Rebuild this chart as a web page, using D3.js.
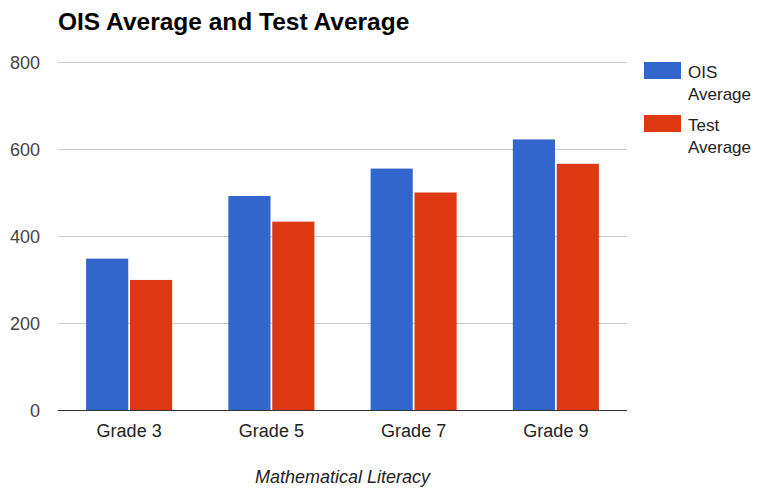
<!DOCTYPE html>
<html>
<head>
<meta charset="utf-8">
<script src="https://cdnjs.cloudflare.com/ajax/libs/d3/7.8.5/d3.min.js"></script>
<style>
  body { margin: 0; background: #fff; }
  text { font-family: "Liberation Sans", Arial, sans-serif; }
</style>
</head>
<body>
<div id="chart"></div>
<script>
// data
var grades = ["Grade 3", "Grade 5", "Grade 7", "Grade 9"];
var oisAverage = [348, 492, 555, 622];
var testAverage = [299, 433, 500, 566];
var seriesNames = ["OIS Average", "Test Average"];
var seriesColors = ["#3366cc", "#dc3912"];
var yTicks = [0, 200, 400, 600, 800];

var width = 758, height = 494;
var plot = {left: 58, right: 627, top: 62, bottom: 410};

var svg = d3.select("#chart").append("svg")
    .attr("width", width)
    .attr("height", height);

var x = d3.scaleBand()
    .domain(grades)
    .range([plot.left, plot.right])
    .paddingInner(0.395)
    .paddingOuter(0.1975);

var xInner = d3.scaleBand()
    .domain(seriesNames)
    .range([0, x.bandwidth()])
    .paddingInner(0.04);

var y = d3.scaleLinear()
    .domain([0, 800])
    .range([plot.bottom, plot.top]);

// gridlines
svg.append("g")
    .selectAll("line")
    .data(yTicks.slice(1)).enter()
    .append("line")
    .attr("x1", plot.left)
    .attr("x2", plot.right)
    .attr("y1", function(d) { return Math.round(y(d)) + 0.5; })
    .attr("y2", function(d) { return Math.round(y(d)) + 0.5; })
    .style("stroke", "#cccccc")
    .style("stroke-width", 1);

// y tick labels
var yAxis = d3.axisLeft(y).tickValues(yTicks).tickSize(0).tickPadding(0);
var yg = svg.append("g")
    .attr("transform", "translate(40,0)")
    .call(yAxis);
yg.select(".domain").remove();
yg.selectAll("text")
    .attr("dy", "0.36em")
    .style("font-size", "18px")
    .style("font-family", "'Liberation Sans', Arial, sans-serif")
    .style("fill", "#444");

// bars
var rows = grades.map(function(g, i) {
    return {grade: g, values: [
        {name: seriesNames[0], value: oisAverage[i], color: seriesColors[0]},
        {name: seriesNames[1], value: testAverage[i], color: seriesColors[1]}
    ]};
});

svg.append("g")
    .selectAll("g")
    .data(rows).enter()
    .append("g")
    .attr("transform", function(d) { return "translate(" + x(d.grade) + ",0)"; })
    .selectAll("rect")
    .data(function(d) { return d.values; }).enter()
    .append("rect")
    .attr("x", function(d) { return xInner(d.name); })
    .attr("width", xInner.bandwidth())
    .attr("y", function(d) { return y(d.value); })
    .attr("height", function(d) { return y(0) - y(d.value); })
    .style("fill", function(d) { return d.color; });

// baseline + x labels
var xAxis = d3.axisBottom(x).tickSize(0).tickPadding(14);
var xg = svg.append("g")
    .attr("transform", "translate(0," + plot.bottom + ")")
    .call(xAxis);
xg.select(".domain")
    .attr("d", "M" + plot.left + ",0.5H" + plot.right)
    .style("stroke", "#333")
    .style("stroke-width", 1.2);
xg.selectAll("text")
    .style("font-size", "18px")
    .style("font-family", "'Liberation Sans', Arial, sans-serif")
    .style("fill", "#222");

// title
svg.append("text")
    .attr("x", 58)
    .attr("y", 30)
    .style("font-size", "24.5px")
    .style("font-weight", "bold")
    .style("fill", "#000")
    .text("OIS Average and Test Average");

// axis title
svg.append("text")
    .attr("x", (plot.left + plot.right) / 2)
    .attr("y", 483)
    .attr("text-anchor", "middle")
    .style("font-size", "18px")
    .style("font-style", "italic")
    .style("fill", "#222")
    .text("Mathematical Literacy");

// legend
var legend = svg.append("g")
    .selectAll("g")
    .data(seriesNames).enter()
    .append("g")
    .attr("transform", function(d, i) { return "translate(644," + (62 + i * 53) + ")"; });

legend.append("rect")
    .attr("width", 37)
    .attr("height", 17)
    .style("fill", function(d, i) { return seriesColors[i]; });

legend.append("text")
    .attr("x", 44)
    .attr("y", 15.5)
    .style("font-size", "17px")
    .style("fill", "#222")
    .selectAll("tspan")
    .data(function(d) { return d.split(" "); }).enter()
    .append("tspan")
    .attr("x", 44)
    .attr("dy", function(d, i) { return i === 0 ? 0 : 22.5; })
    .text(function(d) { return d; });
</script>
</body>
</html>
